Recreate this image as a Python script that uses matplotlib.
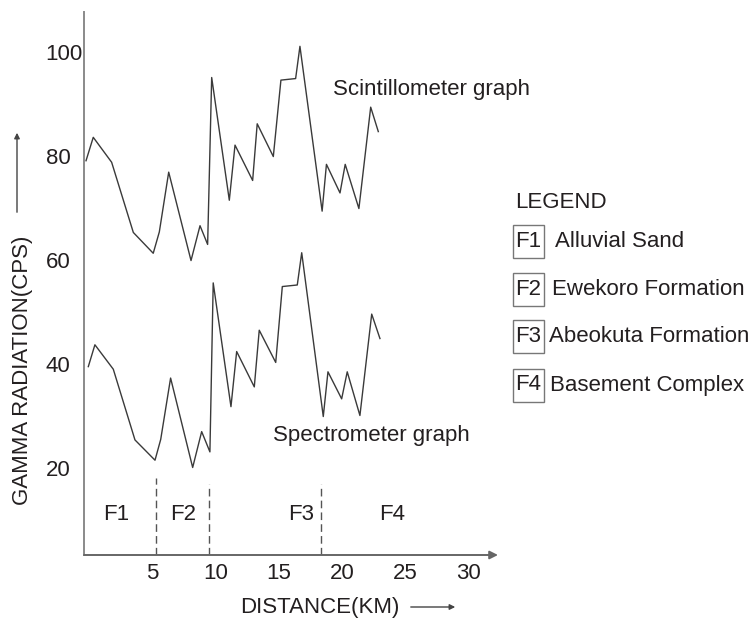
import matplotlib
matplotlib.use("Agg")
import matplotlib.pyplot as plt
from matplotlib.patches import Rectangle, FancyArrowPatch
from matplotlib.transforms import ScaledTranslation

plt.rcParams['font.family'] = ['Liberation Sans', 'DejaVu Sans']

# Scintillometer graph (distance km, gamma radiation cps)
scint_x = [-0.2, 0.37, 1.82, 3.53, 5.10, 5.58, 6.32, 8.08, 8.79, 9.39, 9.71, 11.10, 11.55,
           12.94, 13.30, 14.57, 15.17, 16.33, 16.67, 18.42, 18.76, 19.83, 20.24, 21.32,
           22.25, 22.85]
scint_y = [79.1, 83.6, 78.8, 65.3, 61.3, 65.4, 76.9, 59.9, 66.6, 63.0, 95.1, 71.5, 82.1,
           75.3, 86.2, 79.9, 94.6, 94.9, 101.1, 69.4, 78.4, 72.9, 78.4, 69.9, 89.4, 84.7]

# Spectrometer graph
spec_x = [-0.02, 0.5, 1.95, 3.66, 5.24, 5.69, 6.47, 8.21, 8.92, 9.57, 9.83, 11.23, 11.68,
          13.07, 13.46, 14.76, 15.28, 16.46, 16.81, 18.51, 18.88, 19.96, 20.40, 21.40,
          22.33, 22.98]
spec_y = [39.5, 43.7, 39.0, 25.4, 21.5, 25.5, 37.3, 20.1, 27.0, 23.1, 55.6, 31.8, 42.4,
          35.6, 46.5, 40.3, 54.9, 55.2, 61.4, 29.9, 38.5, 33.3, 38.5, 30.1, 49.6, 44.9]

# Formation boundaries and labels
boundary_x = [5.29, 9.50, 18.30]
boundary_top = [18.1, 16.9, 16.9]
zone_labels = ['F1', 'F2', 'F3', 'F4']
zone_label_x = [2.17, 7.44, 16.75, 23.92]
zone_label_y = 11.0

legend_codes = ['F1', 'F2', 'F3', 'F4']
legend_names = ['Alluvial Sand', 'Ewekoro Formation', 'Abeokuta Formation', 'Basement Complex']

x_ticks = [5, 10, 15, 20, 25, 30]
y_ticks = [20, 40, 60, 80, 100]

TXT = '#231f20'
LINE = '#3a3a3a'
AX = '#8a8a8a'
FS = 16

W, H = 752, 620
fig = plt.figure(figsize=(W / 100, H / 100), dpi=100)
ax = fig.add_axes([84 / W, 65 / H, 414 / W, 543 / H])

ax.plot(scint_x, scint_y, color=LINE, lw=1.0)
ax.plot(spec_x, spec_y, color=LINE, lw=1.0)

for bx, bt in zip(boundary_x, boundary_top):
    ax.vlines(bx, 3.27, bt, colors='#555555', lw=1.0, linestyles=(0, (5.5, 3)))

for lab, lx in zip(zone_labels, zone_label_x):
    ax.text(lx, zone_label_y, lab, fontsize=FS, color=TXT, ha='center', va='center')

ax.text(19.27, 92.7, 'Scintillometer graph', fontsize=FS, color=TXT, ha='left', va='center')
ax.text(14.54, 26.3, 'Spectrometer graph', fontsize=FS, color=TXT, ha='left', va='center')

ax.set_xlim(-0.36, 32.29)
ax.set_ylim(3.27, 107.7)
ax.set_xticks(x_ticks)
ax.set_yticks(y_ticks)
ax.tick_params(length=0, labelsize=FS, labelcolor=TXT)
ax.tick_params(axis='y', pad=9.7)
ax.tick_params(axis='x', pad=6)

# the "100" label sits closer to the axis in the reference
lab100 = ax.yaxis.get_major_ticks()[-1].label1
lab100.set_transform(lab100.get_transform() + ScaledTranslation(12 / 100, 0, fig.dpi_scale_trans))

for s in ['top', 'right', 'bottom']:
    ax.spines[s].set_visible(False)
ax.spines['left'].set_color(AX)
ax.spines['left'].set_linewidth(1.4)
ax.annotate('', xy=(1.0, 0), xytext=(0, 0), xycoords='axes fraction',
            arrowprops=dict(arrowstyle='-|>', color='#666666', lw=1.4,
                            mutation_scale=12, shrinkA=0, shrinkB=0))

# axis titles with arrows
fig.text(320 / W, 1 - 607 / H, 'DISTANCE(KM)', fontsize=FS, color=TXT, ha='center', va='center')
fig.add_artist(FancyArrowPatch((408 / W, 1 - 607 / H), (458 / W, 1 - 607 / H),
               transform=fig.transFigure, arrowstyle='-|>', mutation_scale=8,
               color='#444444', lw=1.0))
fig.text(23 / W, 1 - 370 / H, 'GAMMA RADIATION(CPS)', fontsize=FS, color=TXT,
         ha='center', va='center', rotation=90)
fig.add_artist(FancyArrowPatch((17 / W, 1 - 215 / H), (17 / W, 1 - 130 / H),
               transform=fig.transFigure, arrowstyle='-|>', mutation_scale=8,
               color='#444444', lw=1.0))

# legend
fig.text(515 / W, 1 - 203 / H, 'LEGEND', fontsize=FS, color=TXT, ha='left', va='center')
row_y = [241.5, 289.5, 336.5, 385]
name_x = [555, 552, 549, 550]
for code, name, ry, nx in zip(legend_codes, legend_names, row_y, name_x):
    fig.add_artist(Rectangle((513 / W, 1 - (ry + 16.5) / H), 31 / W, 33 / H,
                             transform=fig.transFigure, fc='none', ec='#777777', lw=1.0))
    fig.text(528.5 / W, 1 - ry / H, code, fontsize=FS, color=TXT, ha='center', va='center')
    fig.text(nx / W, 1 - ry / H, name, fontsize=FS, color=TXT, ha='left', va='center')

fig.savefig('out.png', dpi=100)
